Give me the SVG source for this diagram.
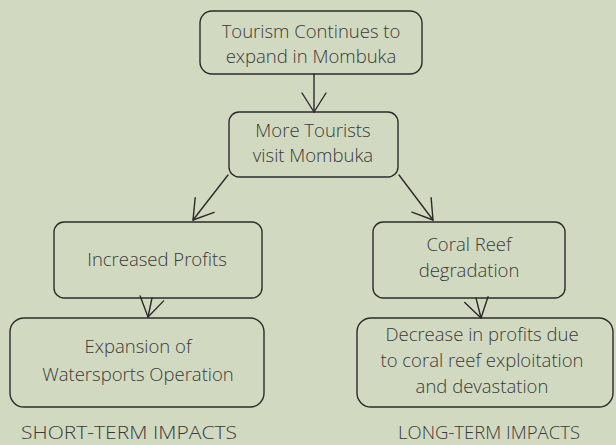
<svg xmlns="http://www.w3.org/2000/svg" width="616" height="445" viewBox="0 0 616 445">
  <style>
    .box { fill: none; stroke: #2b2b2b; stroke-width: 1.4; stroke-linejoin: round; }
    .link { fill: none; stroke: #2b2b2b; stroke-width: 1.4; stroke-linecap: round; }
    .lbl { font-family: "Open Sans", "Liberation Sans", sans-serif; font-size: 18.5px; fill: #3a3a3a; text-anchor: middle; font-weight: 300; }
    .cap { font-family: "Open Sans", "Liberation Sans", sans-serif; font-size: 18px; fill: #3a3a3a; text-anchor: middle; font-weight: 300; }
  </style>
  <defs>
    <marker id="vee" viewBox="0 0 24 28" refX="21" refY="14" markerWidth="24" markerHeight="28" markerUnits="userSpaceOnUse" orient="auto">
      <path d="M2,2 L21,14 L2,26" fill="none" stroke="#2b2b2b" stroke-width="1.4" stroke-linecap="round" stroke-linejoin="round"/>
    </marker>
  </defs>
  <rect width="616" height="445" fill="#d1d9c0"/>

  <g id="connectors">
    <path class="link" d="M314,74 L314,112" marker-end="url(#vee)"/>
    <path class="link" d="M228,175 L193,220" marker-end="url(#vee)"/>
    <path class="link" d="M399,175 L433,220" marker-end="url(#vee)"/>
    <path class="link" d="M152,298 L148,317" marker-end="url(#vee)"/>
    <path class="link" d="M476,298 L481,318" marker-end="url(#vee)"/>
  </g>

  <g id="n-tourism">
    <rect class="box" x="200" y="11" width="222" height="63" rx="12"/>
    <text class="lbl" x="311" y="38">Tourism Continues to</text>
    <text class="lbl" x="311" y="63">expand in Mombuka</text>
  </g>
  <g id="n-tourists">
    <rect class="box" x="229" y="112" width="169" height="65" rx="10"/>
    <text class="lbl" x="313" y="137">More Tourists</text>
    <text class="lbl" x="313" y="162">visit Mombuka</text>
  </g>
  <g id="n-profits">
    <rect class="box" x="54" y="222" width="208" height="76" rx="10"/>
    <text class="lbl" x="157" y="266">Increased Profits</text>
  </g>
  <g id="n-coral">
    <rect class="box" x="373" y="222" width="192" height="76" rx="10"/>
    <text class="lbl" x="469" y="251">Coral Reef</text>
    <text class="lbl" x="469" y="277">degradation</text>
  </g>
  <g id="n-expansion">
    <rect class="box" x="10" y="318" width="254" height="89" rx="14"/>
    <text class="lbl" x="138" y="353">Expansion of</text>
    <text class="lbl" x="138" y="381">Watersports Operation</text>
  </g>
  <g id="n-decrease">
    <rect class="box" x="357" y="318" width="256" height="89" rx="14"/>
    <text class="lbl" x="482" y="341">Decrease in profits due</text>
    <text class="lbl" x="482" y="367">to coral reef exploitation</text>
    <text class="lbl" x="482" y="393">and devastation</text>
  </g>

  <text class="cap" x="129" y="439" textLength="216" lengthAdjust="spacingAndGlyphs">SHORT-TERM IMPACTS</text>
  <text class="cap" x="489" y="439" textLength="182" lengthAdjust="spacingAndGlyphs">LONG-TERM IMPACTS</text>
</svg>
